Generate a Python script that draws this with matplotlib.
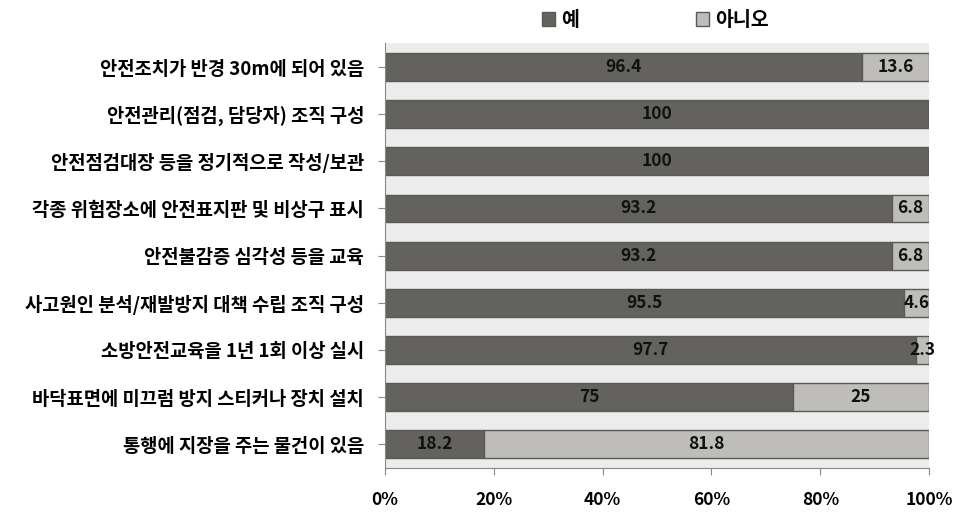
import numpy as np
import matplotlib.pyplot as plt
from matplotlib.ticker import PercentFormatter

plt.rcParams['font.family'] = ['Noto Sans CJK KR', 'DejaVu Sans']

categories = [
    '안전조치가 반경 30m에 되어 있음',
    '안전관리(점검, 담당자) 조직 구성',
    '안전점검대장 등을 정기적으로 작성/보관',
    '각종 위험장소에 안전표지판 및 비상구 표시',
    '안전불감증 심각성 등을 교육',
    '사고원인 분석/재발방지 대책 수립 조직 구성',
    '소방안전교육을 1년 1회 이상 실시',
    '바닥표면에 미끄럼 방지 스티커나 장치 설치',
    '통행에 지장을 주는 물건이 있음',
]
yes_vals = [96.4, 100, 100, 93.2, 93.2, 95.5, 97.7, 75, 18.2]
no_vals = [13.6, 0, 0, 6.8, 6.8, 4.6, 2.3, 25, 81.8]
series_names = ['예', '아니오']

yes = np.array(yes_vals)
no = np.array(no_vals)
total = yes + no
yes_pct = yes / total * 100
no_pct = no / total * 100

dark = '#64625e'
light = '#bebdb9'
edge = '#5a5956'

fig = plt.figure(figsize=(9.61, 5.17), dpi=100)
ax = fig.add_axes([0.4006, 0.095, 0.5661, 0.821])
ax.set_facecolor('#ececec')

y = np.arange(len(categories))
h = 0.59
ax.barh(y, yes_pct, height=h, color=dark, edgecolor=edge, linewidth=1, label=series_names[0])
ax.barh(y, no_pct, left=yes_pct, height=h, color=light, edgecolor=edge, linewidth=1, label=series_names[1])

for i in range(len(categories)):
    ax.text(yes_pct[i] / 2, y[i], f'{yes_vals[i]:g}', ha='center', va='center',
            fontsize=12.5, fontweight='bold', color='#111111')
    if no_vals[i] > 0:
        ax.text(yes_pct[i] + no_pct[i] / 2, y[i], f'{no_vals[i]:g}', ha='center', va='center',
                fontsize=12.5, fontweight='bold', color='#111111')

ax.set_xlim(0, 100)
ax.set_ylim(len(categories) - 0.5, -0.5)
ax.set_yticks(y)
ax.set_yticklabels(categories, fontsize=13.5, fontweight='bold')
ax.set_xticks(np.arange(0, 101, 20))
ax.xaxis.set_major_formatter(PercentFormatter(decimals=0))
for lab in ax.get_xticklabels():
    lab.set_fontweight('bold')
    lab.set_fontsize(12.5)
ax.tick_params(axis='x', direction='out', length=5, pad=12, color='#888888')
ax.tick_params(axis='y', direction='out', length=5, pad=10, color='#888888')
for s in ['top', 'right']:
    ax.spines[s].set_visible(False)
for s in ['left', 'bottom']:
    ax.spines[s].set_color('#888888')

ax.legend(loc='lower center', bbox_to_anchor=(0.497, 1.005), ncol=2, frameon=False,
          handlelength=0.7, handleheight=0.7, columnspacing=6.0, handletextpad=0.3,
          borderaxespad=0.2, prop={'size': 14, 'weight': 'bold'})

fig.savefig('out.png', dpi=100)
